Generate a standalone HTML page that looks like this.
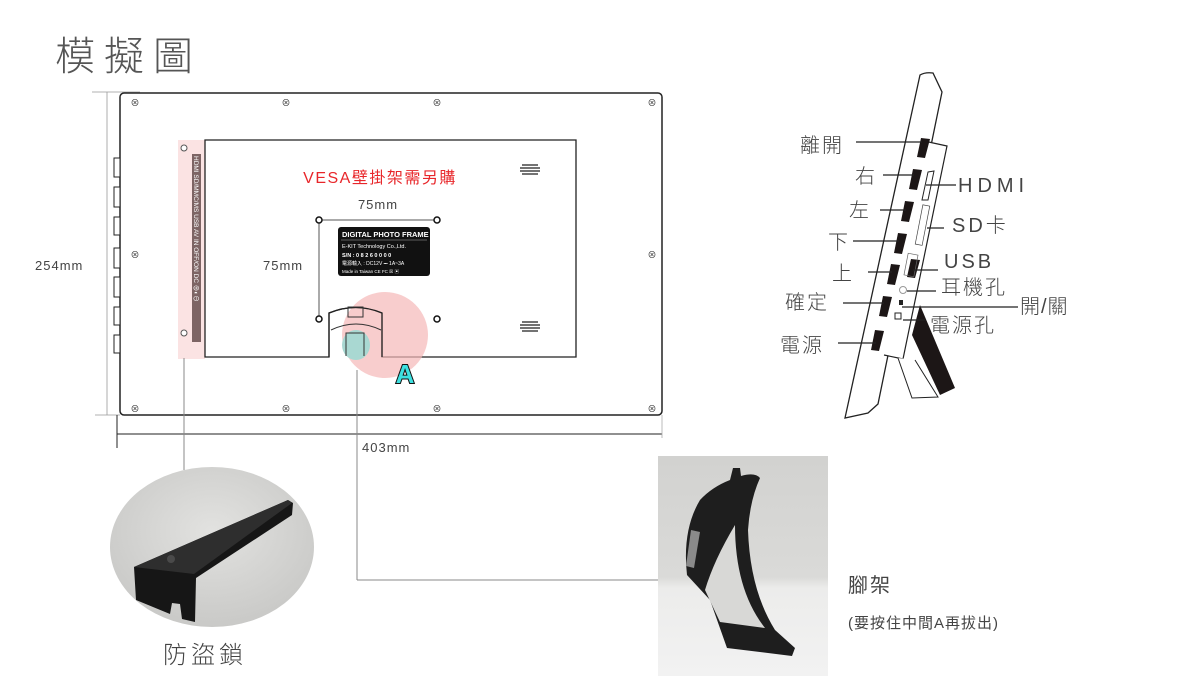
<!DOCTYPE html>
<html><head><meta charset="utf-8"><style>
html,body{margin:0;padding:0;background:#fff;}
svg{display:block;}
text{font-family:"Liberation Sans","Noto Sans CJK TC",sans-serif;}
</style></head><body>
<svg width="1200" height="700" viewBox="0 0 1200 700" xmlns="http://www.w3.org/2000/svg">
<defs>
<radialGradient id="g1" cx="50%" cy="40%" r="60%"><stop offset="0" stop-color="#e2e2e0"/><stop offset="1" stop-color="#c9c9c7"/></radialGradient>
<linearGradient id="g2" x1="0" y1="0" x2="0" y2="1"><stop offset="0" stop-color="#d2d2d0"/><stop offset="0.55" stop-color="#dadad8"/><stop offset="0.6" stop-color="#ececeb"/><stop offset="1" stop-color="#f2f2f2"/></linearGradient>
</defs>
<text x="55" y="70" font-size="40" fill="#555" letter-spacing="9" font-weight="300">模擬圖</text>

<line x1="92" y1="92" x2="140" y2="92" stroke="#999" stroke-width="0.8"/>
<line x1="107" y1="92" x2="107" y2="415" stroke="#999" stroke-width="0.8"/>
<line x1="95" y1="415" x2="120" y2="415" stroke="#999" stroke-width="0.8"/>
<text x="35" y="270" font-size="13" fill="#444" letter-spacing="1">254mm</text>
<line x1="117" y1="434" x2="662" y2="434" stroke="#222" stroke-width="1"/>
<line x1="117" y1="415" x2="117" y2="448" stroke="#222" stroke-width="1"/>
<line x1="662" y1="415" x2="662" y2="438" stroke="#aaa" stroke-width="0.8"/>
<text x="362" y="452" font-size="13" fill="#444" letter-spacing="1">403mm</text>

<rect x="120" y="93" width="542" height="322" rx="4" fill="#fff" stroke="#222" stroke-width="1.5"/>
<g fill="#fff" stroke="#222" stroke-width="1">
<rect x="114" y="158" width="6" height="19"/><rect x="114" y="187" width="6" height="20"/><rect x="114" y="217" width="6" height="18"/><rect x="114" y="248" width="6" height="20"/><rect x="114" y="277" width="6" height="20"/><rect x="114" y="307" width="6" height="18"/><rect x="114" y="335" width="6" height="18"/>
</g>
<g font-size="9" fill="#333" text-anchor="middle">
<text x="135" y="106">⊗</text><text x="286" y="106">⊗</text><text x="437" y="106">⊗</text><text x="652" y="106">⊗</text>
<text x="135" y="258">⊗</text><text x="652" y="258">⊗</text>
<text x="135" y="412">⊗</text><text x="286" y="412">⊗</text><text x="437" y="412">⊗</text><text x="652" y="412">⊗</text>
</g>
<rect x="178" y="140" width="27" height="219" fill="#fbe3e3"/>
<rect x="192" y="154" width="9" height="188" fill="#7d6464"/>
<text transform="translate(194,156) rotate(90)" font-size="6.5" fill="#fff">HDMI   SD/MMC/MS   USB   AV IN  OFF/ON   DC ⊕◐⊖</text>
<circle cx="184" cy="148" r="3" fill="#fff" stroke="#555"/>
<circle cx="184" cy="333" r="3" fill="#fff" stroke="#555"/>
<path d="M205 140 H576 V357 H382 V313 Q356 302 329 313 V357 H205 Z" fill="#fff" stroke="#222" stroke-width="1.3"/>
<text x="380" y="183" font-size="16" fill="#e8262a" text-anchor="middle" letter-spacing="1.5">VESA壁掛架需另購</text>
<g stroke="#444" stroke-width="1.5"><line x1="522" y1="165" x2="538" y2="165"/><line x1="520" y1="168" x2="540" y2="168"/><line x1="520" y1="171" x2="540" y2="171"/><line x1="522" y1="174" x2="538" y2="174"/>
<line x1="522" y1="322" x2="538" y2="322"/><line x1="520" y1="325" x2="540" y2="325"/><line x1="520" y1="328" x2="540" y2="328"/><line x1="522" y1="331" x2="538" y2="331"/></g>
<text x="378" y="209" font-size="13" fill="#444" text-anchor="middle" letter-spacing="1">75mm</text>
<text x="263" y="270" font-size="13" fill="#444" letter-spacing="1">75mm</text>
<line x1="319" y1="220" x2="437" y2="220" stroke="#555"/>
<line x1="319" y1="220" x2="319" y2="319" stroke="#555"/>
<g fill="#fff" stroke="#111" stroke-width="1.5"><circle cx="319" cy="220" r="3"/><circle cx="437" cy="220" r="3"/><circle cx="319" cy="319" r="3"/><circle cx="437" cy="319" r="3"/></g>
<rect x="338" y="227" width="92" height="49" rx="3" fill="#111"/>
<text x="342" y="237" font-size="7.5" fill="#fff" font-weight="bold">DIGITAL PHOTO FRAME</text>
<line x1="341" y1="240" x2="427" y2="240" stroke="#aaa" stroke-width="0.5"/>
<text x="342" y="248" font-size="5.5" fill="#fff">E-KIT Technology Co.,Ltd.</text>
<text x="342" y="257" font-size="5.5" fill="#fff" font-weight="bold">S/N : 0 8 2 6 0 0 0 0</text>
<text x="342" y="265" font-size="5" fill="#fff">電源輸入 : DC12V ⎓ 1A~3A</text>
<text x="342" y="273" font-size="4.5" fill="#fff">Made in Taiwan      CE FC ☒ ▣</text>
<circle cx="385" cy="335" r="43" fill="#f5b8b8" opacity="0.7"/>
<path d="M329 357 V313 Q356 302 382 313 V357" fill="none" stroke="#222" stroke-width="1.3"/>
<rect x="348" y="307" width="15" height="10" fill="none" stroke="#333"/>
<path d="M331 330 Q356 318 381 330" fill="none" stroke="#333"/>
<ellipse cx="356" cy="345" rx="14" ry="15" fill="#a9d8d2"/>
<path d="M346 356 V333 H364 V356" fill="none" stroke="#333"/>
<text x="405" y="383" font-size="26" font-weight="bold" fill="#3de0e0" stroke="#111" stroke-width="2" paint-order="stroke" text-anchor="middle">A</text>

<line x1="184" y1="358" x2="184" y2="470" stroke="#888"/>
<line x1="357" y1="370" x2="357" y2="580" stroke="#888"/>
<line x1="357" y1="580" x2="658" y2="580" stroke="#888"/>

<ellipse cx="212" cy="547" rx="102" ry="80" fill="url(#g1)"/>
<path d="M134 567 L288 500 L293 503 L292 515 L196 578 L195 622 L182 619 L180 604 L172 603 L170 614 L136 600 Z" fill="#161616"/>
<path d="M134 567 L288 500 L292 503 L194 574 Z" fill="#2e2e2e"/>
<circle cx="171" cy="559" r="4" fill="#4a4a4a"/>
<text x="163" y="663" font-size="24" fill="#444" letter-spacing="4" font-weight="300">防盜鎖</text>

<rect x="658" y="456" width="170" height="220" fill="url(#g2)"/>
<path d="M730 480 L733 468 L740 468 L741 476 Q755 472 760 478 Q750 500 748 530 Q750 590 775 630 L795 648 L792 656 L727 648 L710 600 L687 575 Q682 530 700 500 Q712 487 730 480 Z" fill="#1e1e1e"/>
<path d="M705 590 Q714 560 735 525 Q735 590 765 628 L720 622 Z" fill="#d8d8d6"/>
<path d="M691 530 L700 532 L694 568 L686 566 Z" fill="#8a8a8a"/>
<text x="848" y="592" font-size="20" fill="#444" letter-spacing="2">腳架</text>
<text x="848" y="628" font-size="15" fill="#444" letter-spacing="1">(要按住中間A再拔出)</text>

<path d="M920 75 Q925 72 933 73 L942 92 L878 404 L868 413 L845 418 Z" fill="#fff" stroke="#222" stroke-width="1.3"/>
<path d="M924 141 L947 146 L903 359 L884 355" fill="#fff" stroke="#222" stroke-width="1.2"/>
<path d="M912 335 L920 305 L955 388 L940 395 Z" fill="#1c1616"/>
<path d="M898 358 L912 398 L938 397 L915 360" fill="#fff" stroke="#222" stroke-width="1"/>
<g fill="#1c1616">
<polygon points="921,138 930,139 925,158 917,157"/>
<polygon points="913,169 922,170 917,190 909,189"/>
<polygon points="905,201 914,202 909,222 901,221"/>
<polygon points="898,233 907,234 902,254 894,253"/>
<polygon points="891,264 900,265 895,285 887,284"/>
<polygon points="883,296 892,297 887,317 879,316"/>
<polygon points="875,330 884,331 879,351 871,350"/>
<polygon points="911,259 920,260 915,278 907,277"/>
</g>
<path d="M928 172 L934 171 L928 200 L922 200 Z" fill="#fff" stroke="#222"/>
<rect x="919" y="205" width="7" height="40" fill="#fff" stroke="#444" stroke-width="0.7" transform="rotate(11 922 225)"/>
<rect x="906" y="254" width="10" height="22" fill="none" stroke="#666" stroke-width="0.7" transform="rotate(11 911 265)"/>
<circle cx="903" cy="290" r="3.5" fill="none" stroke="#999"/>
<rect x="899" y="300" width="4" height="5" fill="#222"/>
<rect x="895" y="313" width="6" height="6" fill="#fff" stroke="#222"/>
<g stroke="#222" stroke-width="1.2">
<line x1="856" y1="142" x2="922" y2="142"/>
<line x1="883" y1="175" x2="914" y2="175"/>
<line x1="880" y1="210" x2="906" y2="210"/>
<line x1="853" y1="241" x2="899" y2="241"/>
<line x1="868" y1="272" x2="892" y2="272"/>
<line x1="843" y1="303" x2="884" y2="303"/>
<line x1="838" y1="343" x2="876" y2="343"/>
<line x1="926" y1="185" x2="956" y2="185"/>
<line x1="927" y1="228" x2="944" y2="228"/>
<line x1="913" y1="270" x2="938" y2="270"/>
<line x1="907" y1="291" x2="936" y2="291"/>
<line x1="902" y1="307" x2="1018" y2="307"/>
<line x1="903" y1="320" x2="925" y2="320"/>
</g>
<g font-size="20" fill="#444" font-weight="300">
<text x="800" y="152" letter-spacing="2">離開</text>
<text x="855" y="183">右</text>
<text x="849" y="217">左</text>
<text x="828" y="249">下</text>
<text x="832" y="280">上</text>
<text x="785" y="309" letter-spacing="2">確定</text>
<text x="780" y="352" letter-spacing="2">電源</text>
<text x="958" y="192" letter-spacing="5">HDMI</text>
<text x="952" y="232" letter-spacing="3">SD卡</text>
<text x="944" y="268" letter-spacing="3">USB</text>
<text x="941" y="294" letter-spacing="2">耳機孔</text>
<text x="1020" y="313" letter-spacing="1">開/關</text>
<text x="930" y="332" letter-spacing="2">電源孔</text>
</g>
</svg>
</body></html>
